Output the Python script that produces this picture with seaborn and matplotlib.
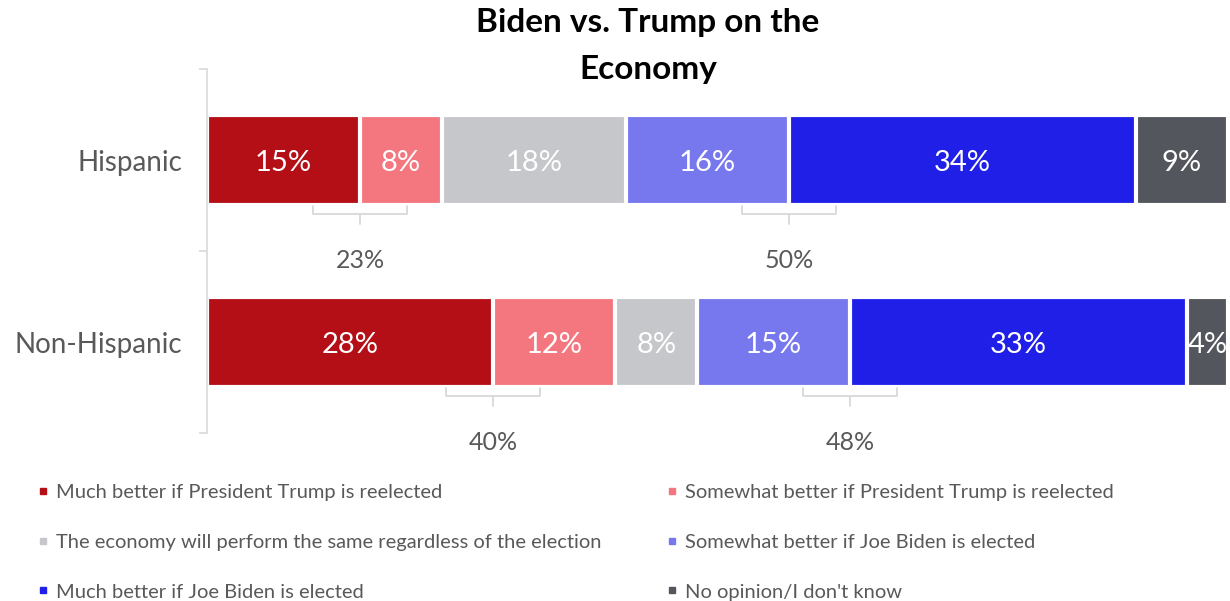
"""
Biden vs. Trump on the Economy - stacked horizontal bars, Hispanic vs Non-Hispanic.
"""

import numpy as np
import pandas as pd
import matplotlib
matplotlib.use("Agg")
import matplotlib.pyplot as plt
from matplotlib.lines import Line2D
import seaborn as sns

# data
groups = ["Hispanic", "Non-Hispanic"]
responses = [
    "Much better if President Trump is reelected",
    "Somewhat better if President Trump is reelected",
    "The economy will perform the same regardless of the election",
    "Somewhat better if Joe Biden is elected",
    "Much better if Joe Biden is elected",
    "No opinion/I don't know",
]
hispanic = [15, 8, 18, 16, 34, 9]
non_hispanic = [28, 12, 8, 15, 33, 4]
trump_total = [23, 40]
biden_total = [50, 48]

colors = ["#B40F17", "#F4777F", "#C5C7CA", "#7878EE", "#1F1FE8", "#53565C"]
text_gray = "#595959"
line_gray = "#D9D9D9"

sns.set_theme(style="white")
plt.rcParams["font.family"] = ["Lato", "DejaVu Sans"]

values = np.array([hispanic, non_hispanic])
cum = values.cumsum(axis=1)
df = pd.DataFrame(cum, index=groups, columns=responses)

fig = plt.figure(figsize=(12.3, 6.01), dpi=100)
ax = fig.add_axes([207 / 1230, 1 - 433 / 601, 1021 / 1230, 364 / 601])

# draw cumulative bars from the right-most segment to the left-most
for k in range(len(responses) - 1, -1, -1):
    sns.barplot(
        x=df[responses[k]].values,
        y=groups,
        orient="h",
        color=colors[k],
        edgecolor="white",
        linewidth=3,
        width=0.49,
        saturation=1,
        errorbar=None,
        ax=ax,
    )

# segment labels
for i in range(len(groups)):
    for k in range(len(responses)):
        xc = cum[i, k] - values[i, k] / 2
        ax.text(xc, i + 0.017, f"{values[i, k]}%", ha="center", va="center",
                color="white", fontsize=21)

# brackets for combined totals
half = 4.6
for i in range(len(groups)):
    for xc, total in [(cum[i, 0], trump_total[i]), (cum[i, 3], biden_total[i])]:
        y_top, y_mid, y_tick = i + 0.253, i + 0.297, i + 0.352
        ax.plot([xc - half, xc - half, xc + half, xc + half],
                [y_top, y_mid, y_mid, y_top], color=line_gray, lw=1.3,
                solid_joinstyle="round")
        ax.plot([xc, xc], [y_mid, y_tick], color=line_gray, lw=1.3)
        ax.text(xc, i + 0.55, f"{total}%", ha="center", va="center",
                color=text_gray, fontsize=18)

ax.set_xlim(0, 100)
ax.set_ylim(1.5, -0.5)
ax.set_xlabel("")
ax.set_ylabel("")
ax.set_xticks([])
ax.set_yticks(range(len(groups)))
ax.set_yticklabels(groups, fontsize=20, color=text_gray)
ax.set_yticks([-0.5, 0.5, 1.5], minor=True)
ax.tick_params(axis="y", which="major", length=0, pad=18)
ax.tick_params(axis="y", which="minor", left=True, length=6, width=1.2,
               color=line_gray)
for side in ["top", "right", "bottom"]:
    ax.spines[side].set_visible(False)
ax.spines["left"].set_color(line_gray)
ax.spines["left"].set_linewidth(1.2)

fig.text(648 / 1230, 1 - 8 / 601, "Biden vs. Trump on the\nEconomy",
         ha="center", va="top", fontsize=24, fontweight="bold",
         color="black", linespacing=1.75)

# legend, two columns
def handle(c):
    return Line2D([], [], marker="s", color=c, linestyle="none", markersize=4.5)

for col, (xa, idx) in enumerate([(38, [0, 2, 4]), (667, [1, 3, 5])]):
    fig.legend(
        [handle(colors[k]) for k in idx],
        [responses[k] for k in idx],
        loc="upper left",
        bbox_to_anchor=(xa / 1230, 1 - 484 / 601),
        frameon=False,
        fontsize=14.5,
        labelcolor=text_gray,
        handlelength=0.5,
        handletextpad=0.4,
        labelspacing=1.62,
        borderpad=0,
        borderaxespad=0,
    )

fig.savefig("out.png", dpi=100)
